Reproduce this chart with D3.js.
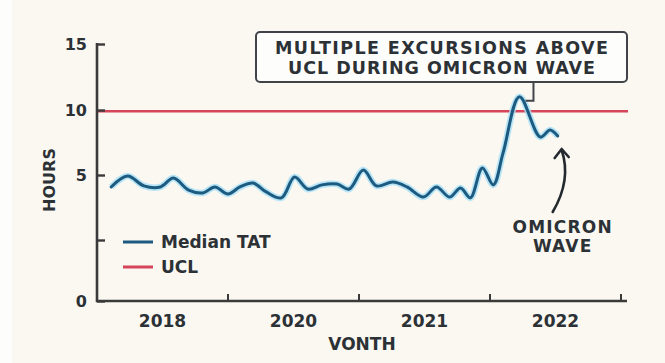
<!DOCTYPE html>
<html>
<head>
<meta charset="utf-8">
<script src="https://cdn.jsdelivr.net/npm/d3@7/dist/d3.min.js"></script>
<style>
  html, body { margin: 0; padding: 0; background: #fdfdfb; }
  svg { display: block; }
  text { font-family: "DejaVu Sans", sans-serif; font-weight: bold; fill: #2c3136; }
</style>
</head>
<body>
<script>
// Year bands along the time axis
const years = ["2018", "2020", "2021", "2022"];
// Month position of each reading (12 months per year band)
const months = [1.3, 2.8, 4.3, 5.8, 7.0, 8.4, 9.7, 10.8, 12.0, 13.1, 14.3, 15.5,
  16.9, 18.1, 19.3, 20.6, 22.0, 23.1, 24.4, 25.6, 27.1, 28.4, 29.9, 31.1,
  32.3, 33.3, 34.2, 35.3, 36.3, 37.2, 38.7, 40.6, 41.5, 42.2];
// Median turnaround time, hours
const medianTAT = [4.54, 4.96, 4.58, 4.54, 4.88, 4.42, 4.31, 4.54, 4.27, 4.54, 4.69, 4.35,
  4.12, 4.92, 4.46, 4.62, 4.65, 4.46, 5.38, 4.58, 4.73, 4.54, 4.15, 4.54,
  4.15, 4.50, 4.12, 5.54, 4.62, 6.7, 11.0, 7.92, 8.46, 8.0];
// Upper control limit, hours
const ucl = 9.9;
// Y axis ticks and their labels
const yTicks = [0, 2.5, 5, 10, 15];
const yTickLabels = ["0", "", "5", "10", "15"];

const W = 665, H = 363;
const svg = d3.select("body").append("svg").attr("width", W).attr("height", H);

svg.append("rect").attr("x", 12).attr("y", 0).attr("width", W - 12).attr("height", H).attr("fill", "#fbf8f1");

const x0 = 97, x1 = 621, axisEnd = 627;
const xBand = d3.scaleBand().domain(years).range([x0, x1]).padding(0);
const xMonth = d3.scaleLinear().domain([0, years.length * 12]).range([x0, x1]);
const y = d3.scaleLinear().domain(yTicks).range([301, 240, 175, 110, 44]);

// UCL line
svg.append("line")
  .attr("x1", x0 + 1).attr("x2", axisEnd + 1)
  .attr("y1", y(ucl)).attr("y2", y(ucl))
  .attr("stroke", "#d6455a").attr("stroke-width", 2.6);

// Median TAT line with soft halo
const line = d3.line()
  .x((d, i) => xMonth(months[i]))
  .y(d => y(d))
  .curve(d3.curveCatmullRom.alpha(0.5));

svg.append("path").datum(medianTAT).attr("d", line)
  .attr("fill", "none").attr("stroke", "#a8e0f7").attr("stroke-width", 6.5)
  .attr("stroke-linejoin", "round").attr("opacity", 0.8);
svg.append("path").datum(medianTAT).attr("d", line)
  .attr("fill", "none").attr("stroke", "#1d5a80").attr("stroke-width", 3)
  .attr("stroke-linejoin", "round").attr("stroke-linecap", "round");

// Y axis
const yAxis = svg.append("g").attr("transform", `translate(${x0},0)`)
  .call(d3.axisLeft(y).tickValues(yTicks).tickFormat((d, i) => yTickLabels[i])
    .tickSize(-8).tickPadding(10));
yAxis.select(".domain").remove();
yAxis.append("line").attr("x1", 0).attr("x2", 0).attr("y1", y(15) - 1).attr("y2", y(0) + 1)
  .attr("stroke", "#3a3a3a").attr("stroke-width", 2.6);
yAxis.selectAll(".tick line").attr("stroke", "#3a3a3a").attr("stroke-width", 2.4);
yAxis.selectAll(".tick text").style("font-size", "16px").attr("fill", "#2c3136");

// X axis: year labels centred in bands, ticks at band edges
const xAxis = svg.append("g").attr("transform", `translate(0,${y(0)})`)
  .call(d3.axisBottom(xBand).tickSize(0).tickPadding(14));
xAxis.select(".domain").remove();
xAxis.selectAll(".tick text").style("font-size", "17px").attr("fill", "#2c3136");
xAxis.append("line").attr("x1", x0 - 1).attr("x2", axisEnd).attr("y1", 0).attr("y2", 0)
  .attr("stroke", "#3a3a3a").attr("stroke-width", 2.6);
xAxis.selectAll(".edge").data(years).enter().append("line")
  .attr("x1", d => xBand(d) + xBand.bandwidth()).attr("x2", d => xBand(d) + xBand.bandwidth())
  .attr("y1", 0).attr("y2", -7).attr("stroke", "#3a3a3a").attr("stroke-width", 2);

// Axis titles
svg.append("text").attr("x", (x0 + axisEnd) / 2).attr("y", 350)
  .attr("text-anchor", "middle").style("font-size", "17px").text("VONTH");
svg.append("text").attr("transform", `translate(55,180) rotate(-90)`)
  .attr("text-anchor", "middle").style("font-size", "16px").text("HOURS");

// Legend
const legend = [{ name: "Median TAT", color: "#1d5a80" }, { name: "UCL", color: "#d6455a" }];
const lg = svg.append("g");
legend.forEach((d, i) => {
  const ly = 242 + i * 25;
  lg.append("line").attr("x1", 123).attr("x2", 153).attr("y1", ly).attr("y2", ly)
    .attr("stroke", d.color).attr("stroke-width", 3);
  lg.append("text").attr("x", 161).attr("y", ly + 6).style("font-size", "17px").text(d.name);
});

// Callout box above the peak
const peakIdx = medianTAT.indexOf(d3.max(medianTAT));
const px = xMonth(months[peakIdx]), py = y(medianTAT[peakIdx]);
const box = { x: 256, y: 32, w: 371, h: 50 };
svg.append("rect").attr("x", box.x).attr("y", box.y).attr("width", box.w).attr("height", box.h)
  .attr("rx", 4).attr("fill", "#fdfdfb").attr("stroke", "#404448").attr("stroke-width", 2);
["MULTIPLE EXCURSIONS ABOVE", "UCL DURING OMICRON WAVE"].forEach((t, i) => {
  svg.append("text").attr("x", box.x + box.w / 2).attr("y", 54 + i * 20)
    .attr("text-anchor", "middle").style("font-size", "17.5px")
    .attr("textLength", i === 0 ? 333 : 307).attr("lengthAdjust", "spacing").text(t);
});
svg.append("path")
  .attr("d", `M${px + 14},${box.y + box.h} V${py + 4} H${px + 6}`)
  .attr("fill", "none").attr("stroke", "#404448").attr("stroke-width", 2);

// Omicron wave arrow and label
const last = months.length - 1;
const ax = xMonth(months[last]), ay = y(medianTAT[last]);
svg.append("path")
  .attr("d", `M${ax - 5},${ay + 76} Q${ax + 14},${ay + 44} ${ax + 4},${ay + 14}`)
  .attr("fill", "none").attr("stroke", "#23292e").attr("stroke-width", 2.6).attr("stroke-linecap", "round");
svg.append("path")
  .attr("d", `M${ax - 3},${ay + 22} L${ax + 4},${ay + 13} L${ax + 11},${ay + 21}`)
  .attr("fill", "none").attr("stroke", "#23292e").attr("stroke-width", 2.6)
  .attr("stroke-linecap", "round").attr("stroke-linejoin", "round");
["OMICRON", "WAVE"].forEach((t, i) => {
  svg.append("text").attr("x", ax + 5).attr("y", 233 + i * 19)
    .attr("text-anchor", "middle").style("font-size", "17px").style("letter-spacing", "1.2px")
    .text(t);
});
</script>
</body>
</html>
